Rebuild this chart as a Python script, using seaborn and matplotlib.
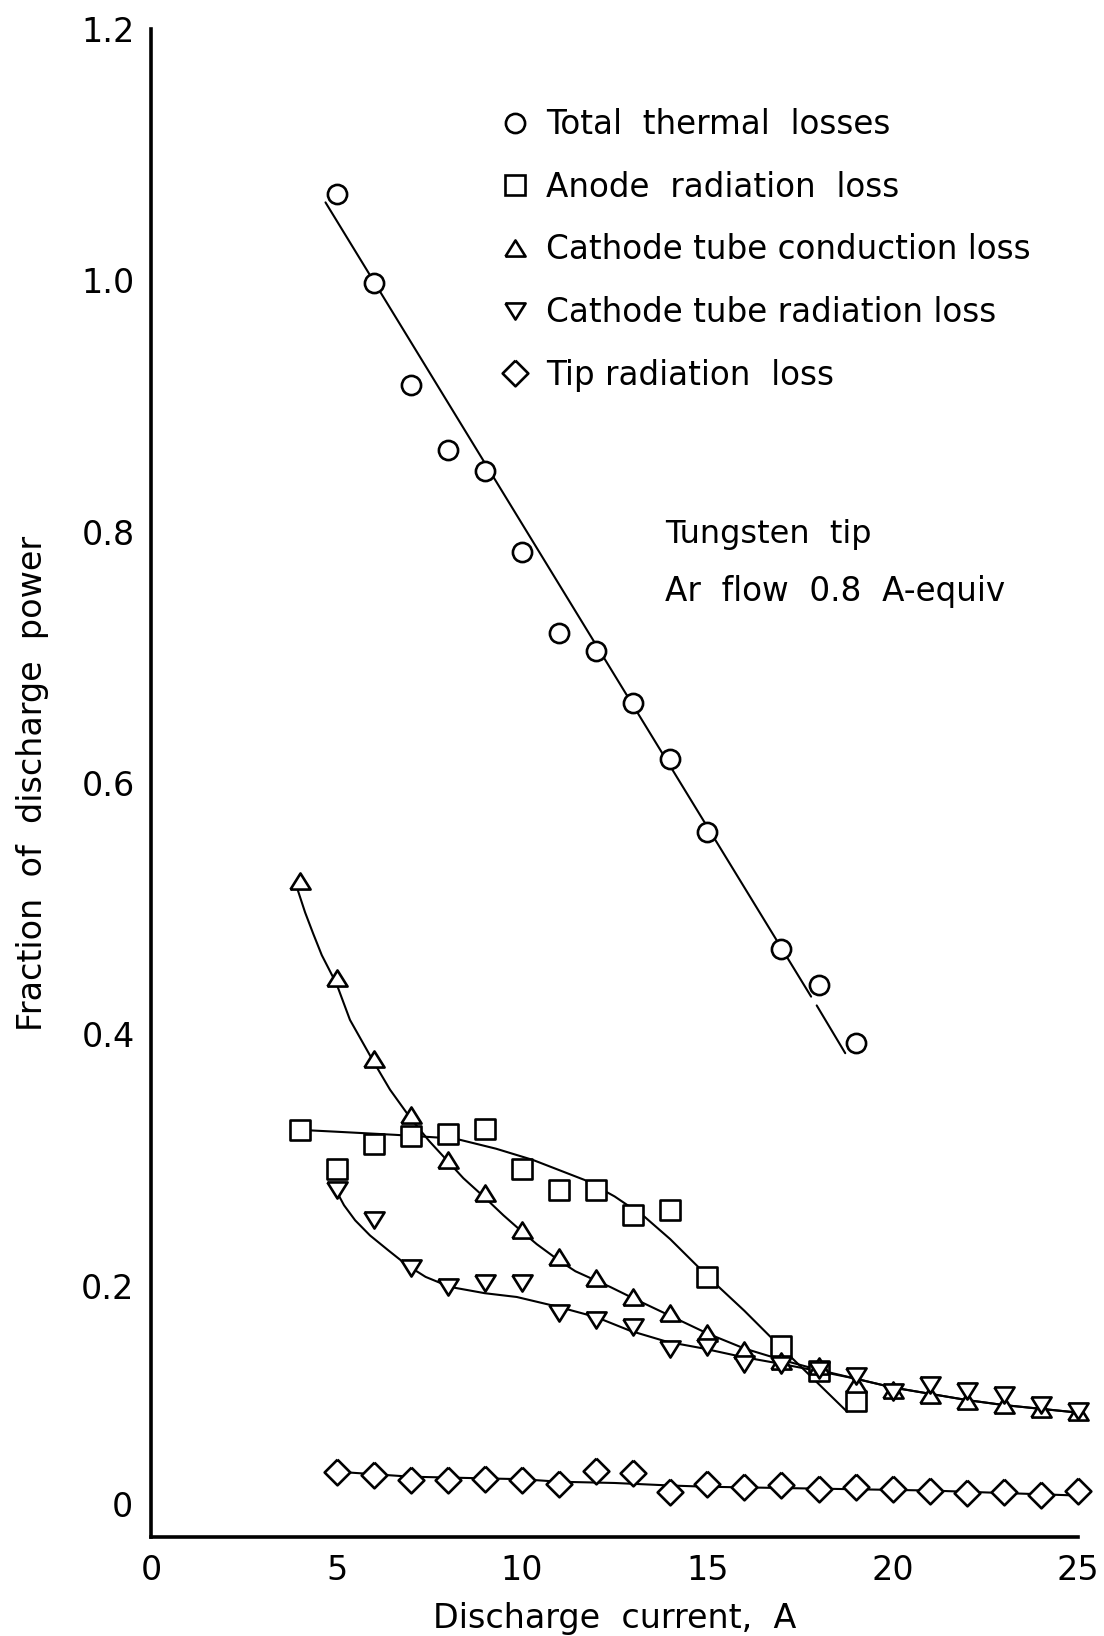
import numpy as np
import matplotlib

matplotlib.use("Agg")
import matplotlib.pyplot as plt  # noqa: E402
import matplotlib.transforms as mtransforms  # noqa: E402
from matplotlib.lines import Line2D  # noqa: E402
import seaborn as sns  # noqa: E402

# ---------------------------------------------------------------------------
# Data (fraction of discharge power vs current, A)
# ---------------------------------------------------------------------------
total_x = [5, 6, 7, 8, 9, 10, 11, 12, 13, 14, 15, 17, 18, 19]
total_y = [1.069, 0.998, 0.917, 0.865, 0.848, 0.784, 0.719, 0.705, 0.664,
           0.619, 0.561, 0.468, 0.439, 0.393]

anode_x = [4, 5, 6, 7, 8, 9, 10, 11, 12, 13, 14, 15, 17, 18, 19]
anode_y = [0.324, 0.293, 0.313, 0.319, 0.321, 0.3245, 0.293, 0.276, 0.276,
           0.256, 0.260, 0.207, 0.152, 0.132, 0.108]

cond_x = list(range(4, 26))
cond_y = [0.522, 0.445, 0.380, 0.336, 0.300, 0.274, 0.244, 0.223, 0.206,
          0.191, 0.178, 0.162, 0.149, 0.140, 0.136, 0.122, 0.117, 0.113,
          0.108, 0.105, 0.102, 0.0997]

trad_x = list(range(5, 26))
trad_y = [0.276, 0.252, 0.214, 0.199, 0.202, 0.202, 0.1785, 0.1727, 0.167,
          0.150, 0.1515, 0.138, 0.137, 0.133, 0.128, 0.115, 0.121, 0.116,
          0.113, 0.105, 0.100]

tip_x = list(range(5, 26))
tip_y = [0.052, 0.0493, 0.0454, 0.0454, 0.046, 0.0454, 0.042, 0.0528, 0.0507,
         0.036, 0.042, 0.040, 0.0414, 0.038, 0.0396, 0.038, 0.0369, 0.0348,
         0.036, 0.0334, 0.0369]

# hand-drawn curves through the points (two pieces for the total, it has a gap)
total_fit_a_x = [4.7, 17.8]
total_fit_a_y = [1.062, 0.430]
total_fit_b_x = [17.95, 18.72]
total_fit_b_y = [0.423, 0.385]

anode_fit_x = [4.0, 5.0, 6.6, 8.2, 9.3, 10.3, 11.0, 11.7, 12.5, 13.3, 14.0,
               14.7, 15.2, 16.0, 16.95, 17.96, 18.77]
anode_fit_y = [0.324, 0.3225, 0.320, 0.317, 0.309, 0.300, 0.292, 0.284,
               0.271, 0.255, 0.237, 0.2165, 0.202, 0.180, 0.152, 0.123, 0.0997]

cond_fit_x = [3.95, 4.15, 4.37, 4.6, 5.0, 5.36, 6.0, 6.44, 7.0, 7.5, 8.0,
              8.42, 9.0, 9.5, 10.0, 10.4, 11.0, 11.44, 12.0, 12.38, 13.0,
              14.0, 15.0, 16.0, 17.0, 18.0, 19.0, 20.0, 21.0, 22.0, 23.0,
              24.0, 25.0]
cond_fit_y = [0.515, 0.497, 0.48, 0.463, 0.440, 0.4115, 0.378, 0.356, 0.333,
              0.315, 0.299, 0.2855, 0.270, 0.256, 0.243, 0.233, 0.220, 0.2115,
              0.204, 0.199, 0.190, 0.176, 0.162, 0.150, 0.141, 0.133, 0.126,
              0.119, 0.114, 0.109, 0.105, 0.102, 0.099]

trad_fit_x = [5.0, 5.2, 5.5, 5.9, 6.4, 6.89, 7.4, 8.06, 9.0, 9.86, 11.0,
              12.0, 12.93, 13.91, 14.9, 15.91, 16.95, 18.0, 19.0, 20.0, 21.0,
              22.0, 23.0, 24.0, 25.0]
trad_fit_y = [0.275, 0.264, 0.252, 0.240, 0.228, 0.2165, 0.207, 0.199, 0.194,
              0.191, 0.183, 0.175, 0.164, 0.1554, 0.150, 0.1435, 0.138, 0.132,
              0.126, 0.119, 0.114, 0.109, 0.105, 0.102, 0.099]

tip_fit_x = [5, 7, 10, 11, 12.5, 14, 15, 17, 19, 21, 23, 25]
tip_fit_y = [0.052, 0.048, 0.046, 0.044, 0.043, 0.041, 0.040, 0.039, 0.038,
             0.037, 0.035, 0.033]

labels = ["Total  thermal  losses", "Anode  radiation  loss",
          "Cathode tube conduction loss", "Cathode tube radiation loss",
          "Tip radiation  loss"]
x_ticks = [0, 5, 10, 15, 20, 25]
y_ticks = [0, 0.2, 0.4, 0.6, 0.8, 1.0, 1.2]
y_tick_labels = ["0", "0.2", "0.4", "0.6", "0.8", "1.0", "1.2"]

# ---------------------------------------------------------------------------
sns.set_theme(style="white")
plt.rcParams["font.family"] = ["DejaVu Sans"]
plt.rcParams["text.color"] = "black"

UP = [(-1, -0.8), (1, -0.8), (0, 0.8), (-1, -0.8)]
DOWN = [(-1, 0.8), (1, 0.8), (0, -0.8), (-1, 0.8)]
DIAMOND = [(0, 1), (1, 0), (0, -1), (-1, 0), (0, 1)]

series = [
    (total_x, total_y, "o", 13.8),
    (anode_x, anode_y, "s", 14.2),
    (cond_x, cond_y, UP, 14.5),
    (trad_x, trad_y, DOWN, 14.5),
    (tip_x, tip_y, DIAMOND, 18.5),
]
MEW = 1.9
LW = 1.5

fig = plt.figure(figsize=(11.04, 16.36), dpi=100)
ax = fig.add_axes([0.137, 0.0605, 0.8395, 0.9218])

curves = [
    (total_fit_a_x, total_fit_a_y), (total_fit_b_x, total_fit_b_y),
    (anode_fit_x, anode_fit_y), (cond_fit_x, cond_fit_y),
    (trad_fit_x, trad_fit_y), (tip_fit_x, tip_fit_y),
]
for cx, cy in curves:
    sns.lineplot(x=cx, y=cy, sort=False, estimator=None, color="black",
                 linewidth=LW, ax=ax, zorder=2, clip_on=False)

for px, py, mk, ms in series:
    sns.scatterplot(x=px, y=py, marker=mk, s=ms ** 2, facecolor="white",
                    edgecolor="black", linewidth=MEW, ax=ax, zorder=3,
                    clip_on=False)

ax.set_xlim(0, 25)
ax.set_ylim(0, 1.2)
ax.set_xticks(x_ticks)
ax.set_xticklabels([str(t) for t in x_ticks])
ax.set_yticks(y_ticks)
ax.set_yticklabels(y_tick_labels)
for side in ("top", "right"):
    ax.spines[side].set_visible(False)
for side in ("left", "bottom"):
    ax.spines[side].set_linewidth(2.6)
    ax.spines[side].set_color("black")
ax.tick_params(axis="x", direction="in", length=9, width=1.6,
               labelsize=24, pad=12, colors="black")
ax.tick_params(axis="y", direction="in", length=11, width=1.6,
               labelsize=24, pad=12, colors="black")

# the y "0" sits above the corner in the original
zero_lab = ax.yaxis.get_major_ticks()[0].label1
zero_lab.set_transform(zero_lab.get_transform() + mtransforms.ScaledTranslation(
    -0.02, 0.33, fig.dpi_scale_trans))

ax.set_xlabel("Discharge  current,  A", fontsize=24, labelpad=11,
              color="black")
ax.set_ylabel("Fraction  of  discharge  power", fontsize=24, labelpad=23,
              color="black")

ax.text(13.87, 0.798, "Tungsten  tip", fontsize=23, va="center", ha="left",
        color="black")
ax.text(13.87, 0.752, "Ar  flow  0.8  A-equiv", fontsize=23.5, va="center",
        ha="left", color="black")

handles = [
    Line2D([], [], linestyle="none", marker=mk, markersize=ms,
           markerfacecolor="white", markeredgecolor="black",
           markeredgewidth=MEW)
    for _, _, mk, ms in series
]
ax.legend(handles, labels, loc="upper left", bbox_to_anchor=(0.4515, 0.934),
          bbox_transform=fig.transFigure, frameon=False, fontsize=23.5,
          labelcolor="black", handlelength=1.0, handletextpad=0.45,
          labelspacing=0.91, borderpad=0, borderaxespad=0)

fig.savefig("out.png", dpi=100, facecolor="white")
